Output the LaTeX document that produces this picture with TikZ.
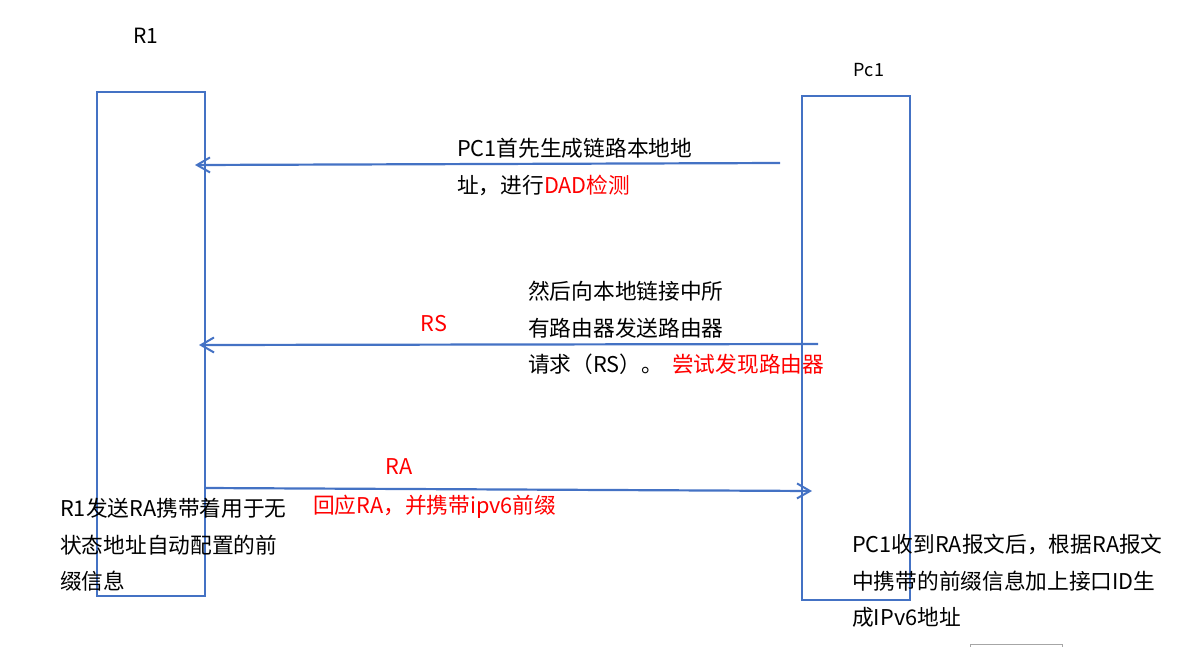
\documentclass[tikz,border=0pt]{standalone}
\usepackage{fontspec}
\setmainfont{Noto Sans CJK SC}
\usetikzlibrary{arrows.meta}
\definecolor{lineblue}{RGB}{68,114,196}
\definecolor{txtred}{RGB}{255,0,0}
\tikzset{
  lifeline/.style={draw=lineblue, line width=2pt, minimum width=108pt, inner sep=0pt},
  msg/.style={draw=lineblue, line width=2.2pt, -{Straight Barb[length=13pt,width=15pt,line width=2pt]}},
  txt/.style={anchor=west, align=left, inner sep=0pt, font=\fontsize{21.7}{36.5}\selectfont},
  redtxt/.style={txt, text=txtred},
  title/.style={inner sep=0pt, font=\fontsize{21}{24}\selectfont},
}
\begin{document}
\begin{tikzpicture}[x=1pt,y=-1pt]
\useasboundingbox (0,0) rectangle (1192,646);
% lifelines
\node[lifeline, minimum height=504pt] (r1box) at (151,344) {};
\node[lifeline, minimum height=504pt] (pc1box) at (856,348) {};
\node[title] (r1lbl) at (146,36) {R1};
\node[title, font=\fontsize{18}{20}\selectfont] (pc1lbl) at (869,70) {Pc1};
% arrow endpoints
\coordinate (a1s) at (780,163);
\coordinate (a1e) at (195,165);
\coordinate (a2s) at (818,344);
\coordinate (a2e) at (199,345);
\coordinate (a3s) at (205,488);
\coordinate (a3e) at (812,491);
\draw[msg] (a1s) -- (a1e);
\draw[msg] (a2s) -- (a2e);
\draw[msg] (a3s) -- (a3e);
% texts
\node[txt] (t1) at (457,167) {PC1首先生成链路本地地\\址，进行\textcolor{txtred}{DAD检测}};
\node[txt] (t2) at (528,328) {然后向本地链接中所\\有路由器发送路由器\\请求（RS）。};
\node[redtxt] (t2b) at (672,364) {尝试发现路由器};
\node[redtxt, anchor=center] (rs) at (434,324) {RS};
\node[redtxt, anchor=center] (ra) at (399,467) {RA};
\node[txt] (t3) at (60,545) {R1发送RA携带着用于无\\状态地址自动配置的前\\缀信息};
\node[redtxt] (t4) at (313,507) {回应RA，并携带ipv6前缀};
\node[txt] (t5) at (852,581) {PC1收到RA报文后，根据RA报文\\中携带的前缀信息加上接口ID生\\成IPv6地址};
% bottom-right fragment
\draw[gray!70, line width=0.8pt] (970,648) -- (970,644) -- (1062,644) -- (1062,648);
\end{tikzpicture}
\end{document}
